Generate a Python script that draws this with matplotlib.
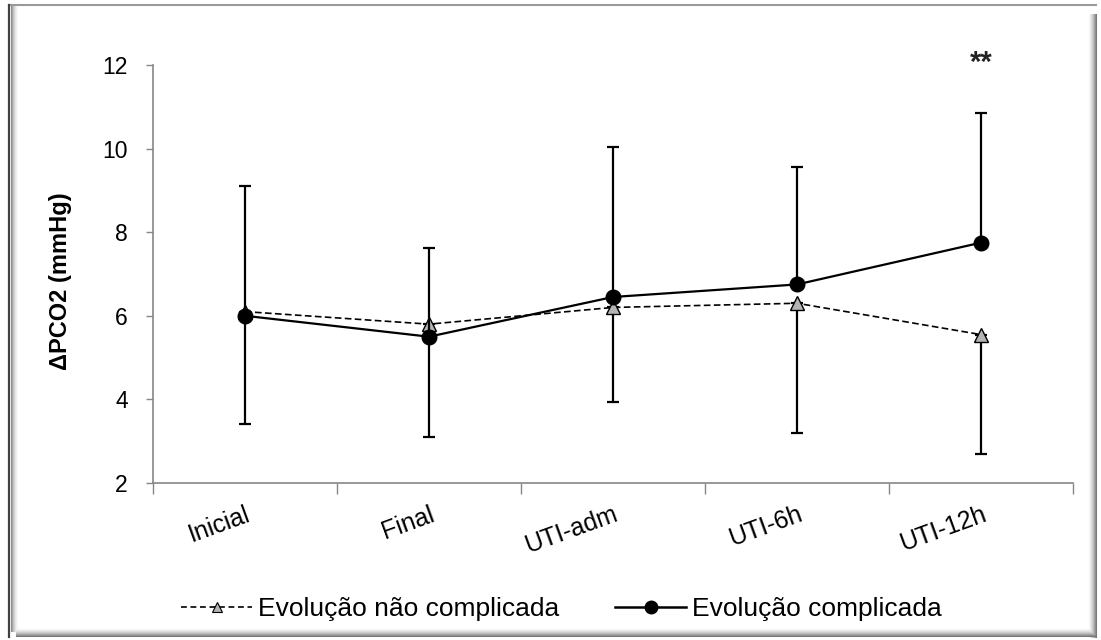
import matplotlib
matplotlib.use("Agg")
import matplotlib.pyplot as plt
from matplotlib.lines import Line2D

plt.rcParams['font.family'] = ['Liberation Sans', 'DejaVu Sans']

# Momentos de coleta
momentos = ['Inicial', 'Final', 'UTI-adm', 'UTI-6h', 'UTI-12h']

# Evolução não complicada: média e desvio (barra para baixo)
nao_compl_media = [6.1, 5.8, 6.2, 6.3, 5.55]
nao_compl_dp = [2.7, 2.7, 2.27, 3.1, 2.85]

# Evolução complicada: média e desvio (barra para cima)
compl_media = [6.0, 5.5, 6.45, 6.75, 7.75]
compl_dp = [3.1, 2.12, 3.6, 2.8, 3.1]

x = list(range(len(momentos)))
zeros = [0] * len(momentos)

W, H = 1101, 640
fig = plt.figure(figsize=(W / 100, H / 100), dpi=100)
ax = fig.add_axes([153 / W, 1 - 483 / H, 920 / W, 418 / H])

# --- serie não complicada (tracejada, triângulos cinza) ---
ax.errorbar(x, nao_compl_media, yerr=[nao_compl_dp, zeros], fmt='none',
            ecolor='black', elinewidth=1.6, capsize=4, capthick=1.6, zorder=2)
ax.plot(x, nao_compl_media, color='black', linewidth=1.2, linestyle=(0, (4, 2)),
        marker='^', markersize=10, markerfacecolor='#b4b4b4',
        markeredgecolor='black', markeredgewidth=1, zorder=3)

# --- serie complicada (linha cheia, círculos pretos) ---
ax.errorbar(x, compl_media, yerr=[zeros, compl_dp], fmt='none',
            ecolor='black', elinewidth=1.6, capsize=4, capthick=1.6, zorder=4)
ax.plot(x, compl_media, color='black', linewidth=1.6, marker='o',
        markersize=10.5, markerfacecolor='black', markeredgecolor='black', zorder=5)

ax.text(4, 12.05, '**', ha='center', va='center', fontsize=21, fontweight='bold',
        color='#222222', clip_on=False)

# Eixos no estilo Excel
ax.set_xlim(-0.5, 4.5)
ax.set_ylim(2, 12)
ax.set_yticks([2, 4, 6, 8, 10, 12])
ax.set_xticks([-0.5, 0.5, 1.5, 2.5, 3.5, 4.5])
ax.set_xticklabels([])
ax.set_xticks(x, minor=True)
ax.set_xticklabels(momentos, minor=True)
for s in ['top', 'right']:
    ax.spines[s].set_visible(False)
for s in ['left', 'bottom']:
    ax.spines[s].set_color('#868686')
    ax.spines[s].set_linewidth(1.2)
ax.tick_params(axis='y', direction='out', length=5, width=1, color='#868686',
               labelsize=16.5, pad=13)
ax.tick_params(axis='x', which='major', direction='out', length=8, width=1,
               color='#868686')
ax.tick_params(axis='x', which='minor', length=0, labelsize=18, pad=14)
plt.setp(ax.get_xticklabels(minor=True), rotation=20, ha='right', va='top',
         rotation_mode='anchor')
ax.set_ylabel('ΔPCO2 (mmHg)', fontsize=17, fontweight='bold')
ax.yaxis.set_label_coords((72 - 153) / 920, 0.483)

# Legenda na base da figura (duas entradas, cada uma com seu traço)
h1 = Line2D([], [], color='black', linewidth=1.2, linestyle=(0, (3.5, 2.2)),
            marker='^', markersize=7.5, markerfacecolor='#b4b4b4',
            markeredgecolor='black', markeredgewidth=0.8)
h2 = Line2D([], [], color='black', linewidth=1.8, marker='o', markersize=9,
            markerfacecolor='black')
leg_y = 1 - 609 / H
fig.legend([h1], ['Evolução não complicada'], loc='center left',
           bbox_to_anchor=(181 / W, leg_y), frameon=False, fontsize=19,
           handlelength=2.7, handletextpad=0.2, borderpad=0, borderaxespad=0)
fig.legend([h2], ['Evolução complicada'], loc='center left',
           bbox_to_anchor=(615 / W, leg_y), frameon=False, fontsize=19,
           handlelength=2.7, handletextpad=0.2, borderpad=0, borderaxespad=0)


# Moldura com sombra
def px_line(x0, y0, x1, y1, c, lw=1.0):
    fig.add_artist(Line2D([x0 / W, x1 / W], [1 - y0 / H, 1 - y1 / H],
                          transform=fig.transFigure, color=c, linewidth=lw))


px_line(9, 5, 1096, 5, '#9a9a9a', 1.5)
px_line(9, 5, 9, 637, '#404040', 1.6)
greys_in = ['#8c8c8c', '#a8a8a8', '#c0c0c0', '#d4d4d4', '#e4e4e4', '#f0f0f0', '#f8f8f8']
for i, g in enumerate(greys_in):
    px_line(10.5 + i, 6, 10.5 + i, 631, g, 0.75)
greys_out = ['#f6f6f6', '#ececec', '#dedede', '#cecece', '#bcbcbc', '#a6a6a6',
             '#909090', '#7a7a7a']
for i, g in enumerate(greys_out):
    px_line(1089 + i, 14, 1089 + i, 637, g, 0.75)
    px_line(16, 629 + i, 1096, 629 + i, g, 0.75)

fig.savefig('out.png', dpi=100)
